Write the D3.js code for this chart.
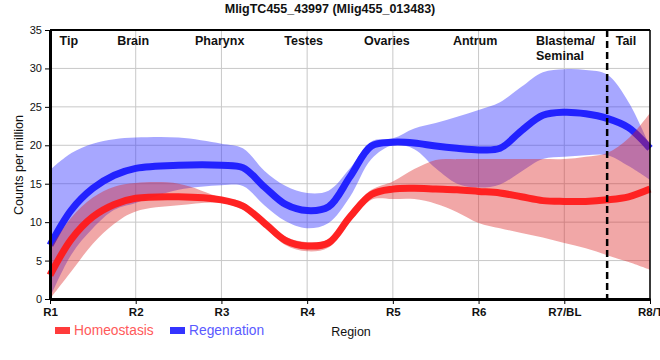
<!DOCTYPE html>
<html><head><meta charset="utf-8">
<script src="https://cdn.jsdelivr.net/npm/d3@7"></script>
<style>
body{margin:0;background:#fff;}
svg{display:block;font-family:"Liberation Sans",Arial,sans-serif;}
</style></head>
<body><svg id="c" width="660" height="360"></svg>
<script>
// ---- data ----
const xLabels = ["R1","R2","R3","R4","R5","R6","R7/BL","R8/T"];
const positions = [0,0.25,0.5,0.75,1,1.5,2,2.25,2.5,2.75,3,3.25,3.5,3.75,4,4.25,4.5,4.75,5,5.25,5.5,5.75,6,6.25,6.5,6.75,7];
const homeoMean  = [3.1,7.8,10.7,12.3,13.1,13.3,12.9,12.1,9.9,7.6,6.9,7.3,10.7,13.6,14.3,14.4,14.3,14.2,14.0,13.8,13.3,12.8,12.7,12.7,12.9,13.3,14.3];
const homeoUpper = [6.5,10.6,13.2,14.6,15.1,15.0,13.2,12.6,10.3,8.1,7.4,7.8,11.3,14.2,15.3,16.9,18.1,18.2,18.2,18.2,18.2,18.2,18.2,18.5,19.0,20.9,24.2];
const homeoLower = [0,3.6,7.2,9.8,11.4,12.2,12.5,11.6,9.4,7.0,6.2,6.7,10.0,12.9,13.0,13.0,12.4,11.3,9.9,9.2,8.6,8.0,7.3,6.6,5.7,4.8,3.8];
const regenMean  = [7.0,11.6,14.4,16.1,17.0,17.4,17.4,17.1,14.6,12.3,11.5,12.0,15.9,19.9,20.4,20.3,19.9,19.6,19.4,19.6,21.9,23.9,24.3,24.1,23.5,22.3,19.6];
const regenUpper = [16.8,19.0,20.2,20.8,21.0,21.0,20.2,19.6,16.7,14.7,13.8,14.1,17.0,20.5,20.9,22.2,22.9,23.7,24.6,25.6,27.6,29.5,29.9,29.8,29.2,25.6,19.8];
const regenLower = [0.2,5.8,9.2,11.6,12.5,14.2,14.8,14.7,12.2,10.1,9.2,9.9,13.3,18.2,20.0,19.5,17.0,15.0,14.5,14.9,16.6,18.2,18.5,18.7,18.7,17.3,15.5];
const yTicks = [0,5,10,15,20,25,30,35];
const regionNames = ["Tip","Brain","Pharynx","Testes","Ovaries","Antrum","Blastema/\nSeminal","Tail"];
const regionPos = [0.22,0.97,1.98,2.96,3.93,4.96,5.67,6.72];
const regionAnchor = ["middle","middle","middle","middle","middle","middle","start","middle"];
const boundaryPos = 6.5;
const seriesNames = ["Homeostasis","Regenration"];

// ---- layout ----
const svg = d3.select("#c");
const L=50,R=650,T=30,B=299;
const x = d3.scaleLinear().domain([0,7]).range([L,R]);
const y = d3.scaleLinear().domain([0,35]).range([B,T]);

// grid
const g = svg.append("g");
g.selectAll(".hg").data(yTicks).join("line")
  .attr("x1",L).attr("x2",R).attr("y1",d=>y(d)).attr("y2",d=>y(d))
  .attr("stroke","#c8c8c8").attr("stroke-width",1);
g.selectAll(".vg").data(d3.range(xLabels.length)).join("line")
  .attr("x1",d=>x(d)).attr("x2",d=>x(d)).attr("y1",T).attr("y2",B)
  .attr("stroke","#c8c8c8").attr("stroke-width",1);

function pts(arr){return positions.map((p,i)=>[p,arr[i]]);}
const crv = d3.curveCatmullRom.alpha(0.5);
const area = d3.area().x(d=>x(d.p)).y0(d=>y(d.lo)).y1(d=>y(d.hi)).curve(crv);
const line = d3.line().x(d=>x(d[0])).y(d=>y(d[1])).curve(crv);
function band(lo,hi){return positions.map((p,i)=>({p,lo:lo[i],hi:hi[i]}));}

// regeneration band + line
svg.append("path").attr("d",area(band(regenLower,regenUpper)))
  .attr("fill","#3333ff").attr("fill-opacity",0.43);
svg.append("path").attr("d",line(pts(regenMean)))
  .attr("fill","none").attr("stroke","#1a1aff").attr("stroke-width",7).attr("stroke-opacity",0.95);
// homeostasis band + line
svg.append("path").attr("d",area(band(homeoLower,homeoUpper)))
  .attr("fill","#dd2222").attr("fill-opacity",0.4);
svg.append("path").attr("d",line(pts(homeoMean)))
  .attr("fill","none").attr("stroke","#ff1a1a").attr("stroke-width",7).attr("stroke-opacity",0.95);

// borders
svg.append("line").attr("x1",L).attr("x2",R).attr("y1",T).attr("y2",T).attr("stroke","#000").attr("stroke-width",2);
svg.append("line").attr("x1",R).attr("x2",R).attr("y1",T).attr("y2",B).attr("stroke","#000").attr("stroke-width",1.5);

// axes
const ya = svg.append("g").attr("transform",`translate(${L},0)`)
  .call(d3.axisLeft(y).tickValues(yTicks).tickSize(5).tickSizeOuter(0));
ya.select(".domain").attr("stroke","#000").attr("stroke-width",3);
ya.selectAll("text").attr("font-size",11).attr("fill","#111").attr("font-family","Liberation Sans, Arial, sans-serif");
const xa = svg.append("g").attr("transform",`translate(0,${B})`)
  .call(d3.axisBottom(x).tickValues(d3.range(xLabels.length)).tickFormat(i=>xLabels[i]).tickSize(5).tickSizeOuter(0).tickPadding(4));
xa.select(".domain").attr("stroke","#000").attr("stroke-width",3);
xa.selectAll("text").attr("font-size",11.5).attr("font-weight","bold").attr("fill","#111").attr("font-family","Liberation Sans, Arial, sans-serif");

// boundary dashed line
svg.append("line").attr("x1",x(boundaryPos)).attr("x2",x(boundaryPos)).attr("y1",T).attr("y2",B+6)
  .attr("stroke","#000").attr("stroke-width",2.5).attr("stroke-dasharray","7,4");

// region labels
regionNames.forEach((n,i)=>{
  const t = svg.append("text").attr("x",x(regionPos[i])).attr("y",45)
    .attr("text-anchor",regionAnchor[i]).attr("font-size",12.5).attr("font-weight","bold").attr("fill","#111");
  n.split("\n").forEach((s,j)=>t.append("tspan").attr("x",x(regionPos[i])).attr("dy",j?15:0).text(s));
});

// title
svg.append("text").attr("x",330).attr("y",13).attr("text-anchor","middle")
  .attr("font-size",12.5).attr("font-weight","bold").attr("fill","#111").text("MligTC455_43997 (Mlig455_013483)");
// y title
svg.append("text").attr("transform","translate(23,165) rotate(-90)").attr("text-anchor","middle")
  .attr("font-size",12.5).attr("fill","#111").text("Counts per million");
// x title
svg.append("text").attr("x",351).attr("y",336).attr("text-anchor","middle")
  .attr("font-size",12.5).attr("fill","#111").text("Region");

// legend
const legCol = ["#ff3b3b","#3434ff"];
const legText = ["#ff5a5a","#5a5aff"];
const legX = [55,170];
seriesNames.forEach((n,i)=>{
  svg.append("rect").attr("x",legX[i]).attr("y",327).attr("width",15).attr("height",7).attr("fill",legCol[i]);
  svg.append("text").attr("x",legX[i]+19).attr("y",335).attr("font-size",13.8).attr("fill",legText[i]).text(n);
});
</script></body></html>
